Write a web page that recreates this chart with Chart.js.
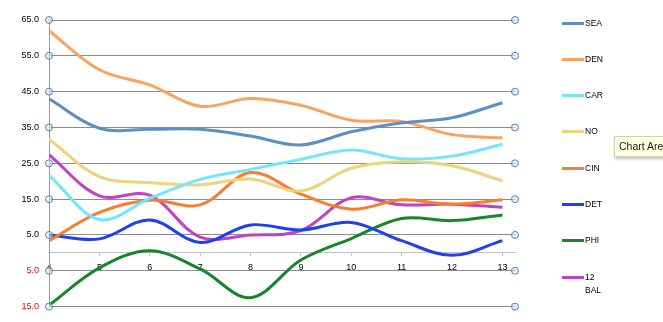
<!DOCTYPE html>
<html>
<head>
<meta charset="utf-8">
<script src="https://cdn.jsdelivr.net/npm/chart.js@4/dist/chart.umd.min.js"></script>
<style>
body { margin: 0; background: #fff; }
#wrap { position: relative; width: 663px; height: 322px; overflow: hidden; }
.swatch { position: absolute; left: 562px; width: 22px; height: 3px; }
.name { position: absolute; left: 585px; width: 12px; font: 8.5px "Liberation Sans", Arial, sans-serif; line-height: 13px; color: #000; }
#tip { position: absolute; left: 614px; top: 136px; height: 19px; padding: 0 4px; white-space: nowrap;
       background: #ffffe1; border: 1px solid #cfcfb8; box-shadow: 1px 2px 3px rgba(0,0,0,0.25);
       font: 10.5px "Liberation Sans", Arial, sans-serif; line-height: 19px; color: #222; }
</style>
</head>
<body>
<div id="wrap">
  <canvas id="canvas" width="663" height="322"></canvas>
  <div id="tip">Chart Area</div>
</div>
<script>

let weeks = [4, 5, 6, 7, 8, 9, 10, 11, 12, 13];

let sea = [43.0, 34.8, 34.5, 34.5, 32.6, 30.1, 33.8, 36.3, 37.7, 41.9];
let den = [62.0, 51.1, 46.9, 40.9, 43.1, 41.2, 37.0, 36.7, 33.0, 32.1];
let car = [21.7, 9.3, 15.2, 20.5, 23.3, 26.1, 28.7, 26.3, 27.0, 30.3];
let no  = [31.7, 21.3, 19.6, 19.0, 20.6, 17.3, 23.6, 25.4, 24.3, 20.1];
let cin = [3.4, 11.3, 14.7, 13.4, 22.4, 16.4, 12.2, 14.8, 13.6, 14.8];
let det = [5.0, 3.9, 9.2, 2.9, 7.8, 6.4, 8.5, 3.4, -0.7, 3.4];
let phi = [-14.6, -4.2, 0.6, -4.5, -12.5, -2.0, 4.0, 9.6, 9.0, 10.6];
let bal = [27.4, 15.9, 16.1, 4.4, 5.0, 6.2, 15.4, 13.4, 13.6, 12.7];

let yTicks = [-15, -5, 5, 15, 25, 35, 45, 55, 65];

let series = [
    { label: 'SEA', data: sea, color: '#5e8fc4' },
    { label: 'DEN', data: den, color: '#f9a35e' },
    { label: 'CAR', data: car, color: '#72e6fb' },
    { label: 'NO', data: no, color: '#f0d27a' },
    { label: 'CIN', data: cin, color: '#fb7c2c' },
    { label: 'DET', data: det, color: '#1f3ff2' },
    { label: 'PHI', data: phi, color: '#17862a' },
    { label: '12 BAL', data: bal, color: '#c241c6' }
];

let datasets = series.map(function(s){
    return {
        label : s.label,
        data : s.data.map(function(v, i){ return {x: weeks[i], y: v}; }),
        fill : false,
        pointRadius : 0,
        pointHoverRadius : 0,
        borderWidth : 3,
        tension : 0.35,
        borderColor : s.color
    };
});

// little round handles at both ends of every gridline
let handles = {
    id : 'handles',
    afterDatasetsDraw : function(chart){
        let ctx = chart.ctx;
        let area = chart.chartArea;
        let y = chart.scales.y;
        ctx.save();
        ctx.lineWidth = 1;
        ctx.strokeStyle = '#5a82a8';
        ctx.fillStyle = 'rgba(214,228,240,0.55)';
        y.ticks.forEach(function(t){
            let py = y.getPixelForValue(t.value);
            [area.left, area.right].forEach(function(px){
                ctx.beginPath();
                ctx.arc(px, py, 3.5, 0, Math.PI * 2);
                ctx.fill();
                ctx.stroke();
            });
        });
        ctx.restore();
    }
};

let options = {
    type : 'line',
    data : { datasets : datasets },
    options : {
        responsive : false,
        animation : false,
        devicePixelRatio : 1,
        layout : { padding : { top : 20, bottom : 14, left : 0, right : 148 } },
        plugins : { legend : { display : false }, tooltip : { enabled : false } },
        scales : {
            x : {
                type : 'linear',
                position : { y : 0 },
                min : 4,
                max : 13.25,
                afterBuildTicks : function(scale){
                    scale.ticks = weeks.map(function(w){ return {value: w}; });
                },
                grid : { drawOnChartArea : false, tickLength : 3, color : '#c4c4c4' },
                border : { color : '#c4c4c4' },
                ticks : {
                    padding : 6,
                    maxRotation : 0,
                    color : '#000',
                    font : { family : 'Liberation Sans', size : 9 }
                }
            },
            y : {
                min : -15,
                max : 65,
                afterBuildTicks : function(scale){
                    scale.ticks = yTicks.map(function(v){ return {value: v}; });
                },
                afterFit : function(scale){ scale.width = 49; },
                grid : { color : '#8c8c8c', drawTicks : false },
                border : { color : '#9a9a9a' },
                ticks : {
                    padding : 10,
                    color : function(c){ return c.tick && c.tick.value < 0 ? '#ff0000' : '#000'; },
                    font : { family : 'Liberation Sans', size : 9 },
                    callback : function(v){ return Math.abs(v).toFixed(1); }
                }
            }
        }
    },
    plugins : [handles]
};

let chart = new Chart(document.getElementById('canvas'), options);

// legend down the right-hand side
let wrap = document.getElementById('wrap');
series.forEach(function(s, i){
    let cy = 23 + i * 36.3;
    let sw = document.createElement('div');
    sw.className = 'swatch';
    sw.style.top = (cy - 1.5) + 'px';
    sw.style.background = s.color;
    wrap.appendChild(sw);
    let nm = document.createElement('div');
    nm.className = 'name';
    nm.style.top = (cy - 6.5) + 'px';
    nm.textContent = s.label;
    wrap.appendChild(nm);
});

</script>
</body>
</html>
